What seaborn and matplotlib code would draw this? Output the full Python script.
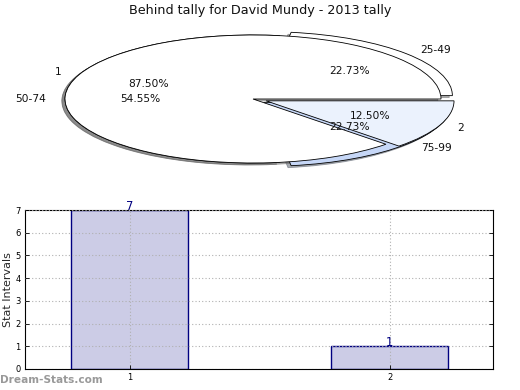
import matplotlib
matplotlib.use("Agg")
import matplotlib.pyplot as plt
import seaborn as sns
import pandas as pd

# ---- data ----
title = "Behind tally for David Mundy - 2013 tally"
outer_labels = ["25-49", "50-74", "75-99"]
outer_values = [5, 12, 5]          # 22.73% / 54.55% / 22.73%
inner_labels = ["1", "2"]
inner_values = [7, 1]              # 87.50% / 12.50%
bar_categories = ["1", "2"]
bar_values = [7, 1]
y_ticks = [0, 1, 2, 3, 4, 5, 6, 7]

sns.set_theme(style="white")
plt.rcParams['font.family'] = ['DejaVu Sans']

fig = plt.figure(figsize=(5.2, 3.9), dpi=100)

# ---- pie (top) ----
axp = fig.add_axes([18 / 520, 1 - 179 / 390, 470 / 520, 160 / 390])
outer_colors = ["white", "white", "#c6d7f7"]
inner_colors = ["white", "#ebf2fd"]
wp = dict(edgecolor="black", linewidth=0.6)
shadow = {'ox': -0.012, 'oy': -0.022, 'shade': 0.6}
axp.pie(outer_values, labels=outer_labels, colors=outer_colors, startangle=0,
        counterclock=True, autopct="%.2f%%", pctdistance=0.6, labeldistance=1.1,
        radius=1.0, explode=[0.08, 0, 0.08], wedgeprops=wp, shadow=shadow,
        textprops=dict(fontsize=7.7, color="#111111"))
axp.pie(inner_values, labels=inner_labels, colors=inner_colors, startangle=0,
        counterclock=True, autopct="%.2f%%", pctdistance=0.6, labeldistance=1.1,
        radius=1.0, explode=[0, 0.075], wedgeprops=wp, shadow=shadow,
        textprops=dict(fontsize=7.7, color="#111111"))
axp.set_aspect("auto")
axp.set_xlim(-1.25, 1.25)
axp.set_ylim(-1.25, 1.25)
axp.axis("off")

fig.text(0.5, 0.973, title, ha="center", va="center", fontsize=9.2, color="#111111")

# ---- bars (bottom) ----
axb = fig.add_axes([25 / 520, 1 - 369 / 390, 468 / 520, 159 / 390])
df = pd.DataFrame({"cat": bar_categories, "val": bar_values})
sns.barplot(data=df, x="cat", y="val", ax=axb, width=0.45, color="#ccccE6",
            edgecolor="#000080", linewidth=1.0, saturation=1)
axb.set_xlim(-0.402, 1.398)
axb.set_ylim(0, 7)
axb.set_yticks(y_ticks)
for i, v in enumerate(bar_values):
    axb.text(i, v, str(v), ha="center", va="baseline", fontsize=8.3,
             color="#000080", clip_on=False)
axb.grid(True, linestyle=(0, (1, 2)), color="#b0b0b0", linewidth=0.8)
axb.set_axisbelow(False)
for p in axb.patches:
    p.set_zorder(1)
axb.tick_params(direction="in", length=3, labelsize=6, width=0.6, colors="black",
                right=True, top=False, left=True, bottom=True, pad=3)
for s in axb.spines.values():
    s.set_color("black")
    s.set_linewidth(0.8)
axb.set_ylabel("Stat Intervals", fontsize=8, labelpad=2)
axb.set_xlabel("Frequency", fontsize=8, labelpad=8)

fig.text(0.0, 1 - 380 / 390, "Dream-Stats.com", ha="left", va="center",
         fontsize=7.6, color="#999999", fontweight="bold")

fig.savefig("out.png", dpi=100)
